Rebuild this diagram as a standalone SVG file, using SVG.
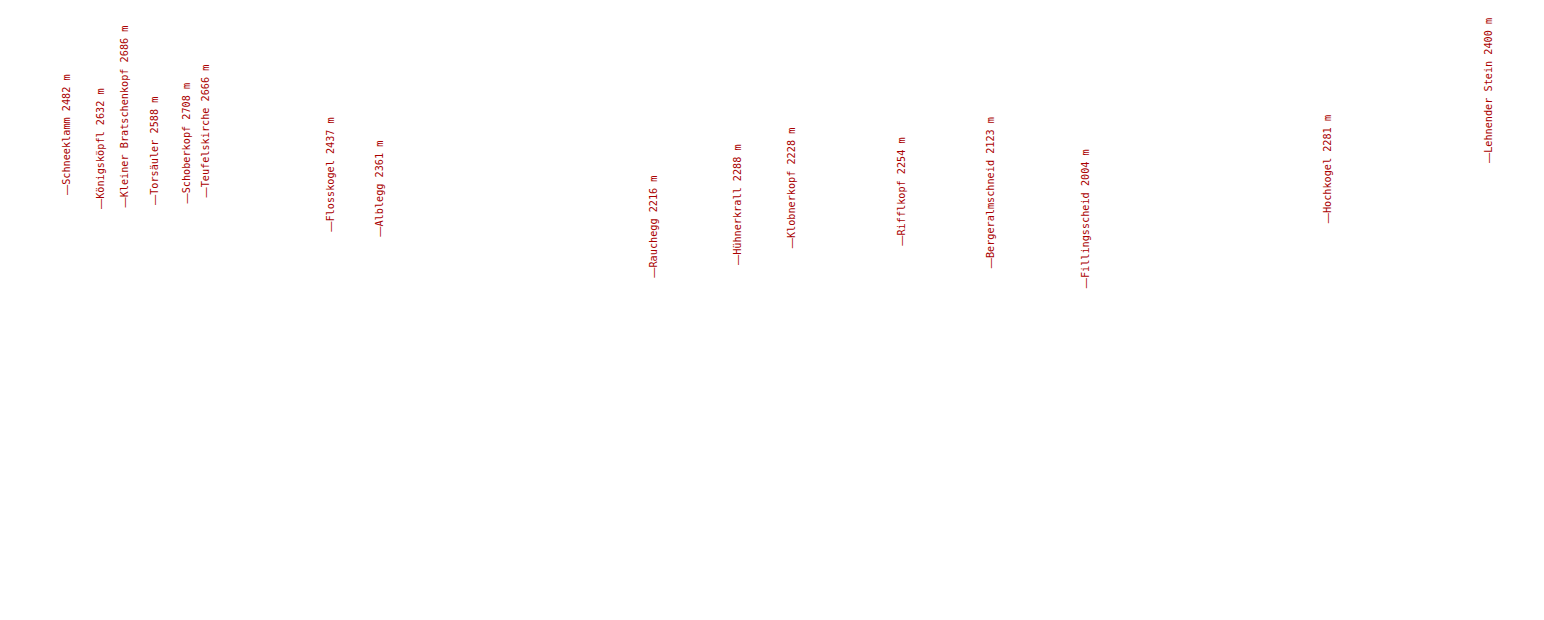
<svg xmlns="http://www.w3.org/2000/svg" width="1544" height="620" viewBox="0 0 1544 620">
<style>
.lbl{font-family:"DejaVu Sans Mono","Liberation Mono",monospace;font-size:10.2px;fill:#aa0000}
.d{font-family:"Liberation Sans",Arial,sans-serif}
</style>
<rect width="1544" height="620" fill="#ffffff"/>
<g id="schneeklamm"><text class="lbl" transform="translate(69.5,195) rotate(-90)"><tspan class="d">—</tspan>Schneeklamm 2482 m</text></g>
<g id="koenigskoepfl"><text class="lbl" transform="translate(104.2,209) rotate(-90)"><tspan class="d">—</tspan>Königsköpfl 2632 m</text></g>
<g id="kleiner-bratschenkopf"><text class="lbl" transform="translate(128.2,207.5) rotate(-90)"><tspan class="d">—</tspan>Kleiner Bratschenkopf 2686 m</text></g>
<g id="torsaeuler"><text class="lbl" transform="translate(157.5,205) rotate(-90)"><tspan class="d">—</tspan>Torsäuler 2588 m</text></g>
<g id="schoberkopf"><text class="lbl" transform="translate(190,203.5) rotate(-90)"><tspan class="d">—</tspan>Schoberkopf 2708 m</text></g>
<g id="teufelskirche"><text class="lbl" transform="translate(209.2,197.5) rotate(-90)"><tspan class="d">—</tspan>Teufelskirche 2666 m</text></g>
<g id="flosskogel"><text class="lbl" transform="translate(334.2,231.7) rotate(-90)"><tspan class="d">—</tspan>Flosskogel 2437 m</text></g>
<g id="alblegg"><text class="lbl" transform="translate(383.2,236.7) rotate(-90)"><tspan class="d">—</tspan>Alblegg 2361 m</text></g>
<g id="rauchegg"><text class="lbl" transform="translate(656.8,277.7) rotate(-90)"><tspan class="d">—</tspan>Rauchegg 2216 m</text></g>
<g id="huehnerkrall"><text class="lbl" transform="translate(740.8,265) rotate(-90)"><tspan class="d">—</tspan>Hühnerkrall 2288 m</text></g>
<g id="klobnerkopf"><text class="lbl" transform="translate(795.2,248.3) rotate(-90)"><tspan class="d">—</tspan>Klobnerkopf 2228 m</text></g>
<g id="rifflkopf"><text class="lbl" transform="translate(905.2,245.7) rotate(-90)"><tspan class="d">—</tspan>Rifflkopf 2254 m</text></g>
<g id="bergeralmschneid"><text class="lbl" transform="translate(994.2,268.3) rotate(-90)"><tspan class="d">—</tspan>Bergeralmschneid 2123 m</text></g>
<g id="fillingsscheid"><text class="lbl" transform="translate(1089.2,288.3) rotate(-90)"><tspan class="d">—</tspan>Fillingsscheid 2004 m</text></g>
<g id="hochkogel"><text class="lbl" transform="translate(1330.8,223.3) rotate(-90)"><tspan class="d">—</tspan>Hochkogel 2281 m</text></g>
<g id="lehnender-stein"><text class="lbl" transform="translate(1491.8,163) rotate(-90)"><tspan class="d">—</tspan>Lehnender Stein 2400 m</text></g>
</svg>
